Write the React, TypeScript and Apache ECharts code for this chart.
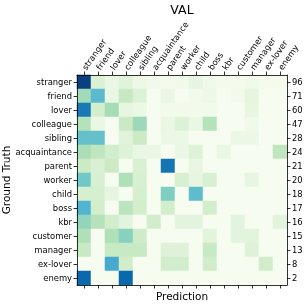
import React, { useEffect, useRef } from 'react';
import * as echarts from 'echarts';

const classes = ['stranger', 'friend', 'lover', 'colleague', 'sibling', 'acquaintance', 'parent', 'worker', 'child', 'boss', 'kbr', 'customer', 'manager', 'ex-lover', 'enemy'];
const supports = [96, 71, 60, 47, 28, 24, 21, 20, 18, 17, 16, 15, 13, 8, 2];

// counts per ground-truth row (columns = predictions, same order as classes)
const strangerRow = [55, 9, 4, 7, 3, 2, 1, 2, 5, 2, 1, 1, 2, 1, 1];
const friendRow = [16, 24, 3, 11, 6, 0, 3, 0, 1, 2, 0, 1, 4, 0, 0];
const loverRow = [28, 7, 13, 3, 2, 0, 1, 1, 1, 1, 0, 0, 3, 0, 0];
const colleagueRow = [9, 2, 0, 7, 11, 0, 2, 4, 2, 9, 0, 0, 1, 0, 0];
const siblingRow = [9, 9, 0, 2, 4, 0, 1, 1, 0, 0, 0, 1, 1, 0, 0];
const acquaintanceRow = [5, 4, 3, 2, 1, 1, 0, 1, 2, 0, 1, 0, 0, 0, 4];
const parentRow = [3, 2, 3, 0, 2, 0, 10, 0, 1, 0, 0, 0, 0, 0, 0];
const workerRow = [6, 2, 0, 4, 2, 0, 0, 2, 1, 2, 0, 0, 1, 0, 0];
const childRow = [2, 2, 1, 0, 2, 0, 5, 0, 6, 0, 0, 0, 0, 0, 0];
const bossRow = [6, 2, 0, 3, 2, 0, 2, 0, 0, 2, 0, 0, 0, 0, 0];
const kbrRow = [4, 3, 2, 1, 0, 2, 0, 1, 1, 0, 0, 1, 0, 0, 1];
const customerRow = [3, 0, 3, 4, 2, 0, 0, 0, 0, 1, 0, 1, 1, 0, 0];
const managerRow = [2, 0, 2, 2, 2, 0, 1, 1, 0, 2, 0, 0, 1, 0, 0];
const exLoverRow = [0, 0, 3, 1, 0, 0, 1, 1, 0, 1, 0, 0, 0, 1, 0];
const enemyRow = [1, 0, 0, 1, 0, 0, 0, 0, 0, 0, 0, 0, 0, 0, 0];

const confusion = [strangerRow, friendRow, loverRow, colleagueRow, siblingRow, acquaintanceRow, parentRow, workerRow, childRow, bossRow, kbrRow, customerRow, managerRow, exLoverRow, enemyRow];

const gnbu = ['#f7fcf0', '#e0f3db', '#ccebc5', '#a8ddb5', '#7bccc4', '#4eb3d3', '#2b8cbe', '#0868ac', '#084081'];

const FONT = 'DejaVu Sans';

export default function App() {
  const ref = useRef<HTMLDivElement>(null);
  useEffect(() => {
    if (!ref.current) return;
    const chart = echarts.init(ref.current, undefined, { renderer: 'svg' });
    const data: [number, number, number][] = [];
    let vmax = 0;
    confusion.forEach((row, r) => {
      const total = supports[r];
      row.forEach((c, col) => {
        const v = c / total;
        if (v > vmax) vmax = v;
        data.push([col, r, v]);
      });
    });
    const lineStyle = { color: '#000', width: 0.8 };
    const tick = { show: true, alignWithLabel: true, interval: 0, length: 3.5, lineStyle };
    const label = { fontFamily: FONT, fontSize: 8.4, color: '#000' };
    chart.setOption({
      animation: false,
      grid: { left: 77, top: 75, width: 210, height: 210 },
      xAxis: [
        {
          type: 'category', data: classes, position: 'top', z: 5,
          axisLabel: { ...label, rotate: -55, interval: 0, margin: 6 },
          axisTick: tick, axisLine: { show: true, lineStyle }, splitLine: { show: false },
        },
        {
          type: 'category', data: classes, position: 'bottom', z: 5,
          axisLabel: { show: false },
          axisTick: tick, axisLine: { show: true, lineStyle }, splitLine: { show: false },
        },
      ],
      yAxis: [
        {
          type: 'category', data: classes, inverse: true, position: 'left', z: 5,
          axisLabel: { ...label, interval: 0, margin: 5 },
          axisTick: tick, axisLine: { show: true, lineStyle }, splitLine: { show: false },
        },
        {
          type: 'category', data: supports.map(String), inverse: true, position: 'right', z: 5,
          axisLabel: { ...label, interval: 0, margin: 5 },
          axisTick: tick, axisLine: { show: true, lineStyle }, splitLine: { show: false },
        },
      ],
      visualMap: {
        show: false, type: 'continuous', min: 0, max: vmax, seriesIndex: 0,
        inRange: { color: gnbu },
      },
      series: [
        {
          type: 'heatmap', xAxisIndex: 0, yAxisIndex: 0, data,
          itemStyle: { borderWidth: 0 },
          emphasis: { disabled: true },
        },
      ],
      graphic: [
        {
          type: 'text', x: 182, y: 9,
          style: { text: 'VAL', font: `12.5px "${FONT}"`, fill: '#000', align: 'center', verticalAlign: 'middle' },
        },
        {
          type: 'text', x: 182, y: 295.5,
          style: { text: 'Prediction', font: `10.5px "${FONT}"`, fill: '#000', align: 'center', verticalAlign: 'middle' },
        },
        {
          type: 'text', x: 5.5, y: 180, rotation: Math.PI / 2,
          style: { text: 'Ground Truth', font: `10.5px "${FONT}"`, fill: '#000', align: 'center', verticalAlign: 'middle' },
        },
      ],
    });
    return () => chart.dispose();
  }, []);
  return <div ref={ref} style={{ position: 'fixed', left: 0, top: 0, width: 307, height: 305 }} />;
}
